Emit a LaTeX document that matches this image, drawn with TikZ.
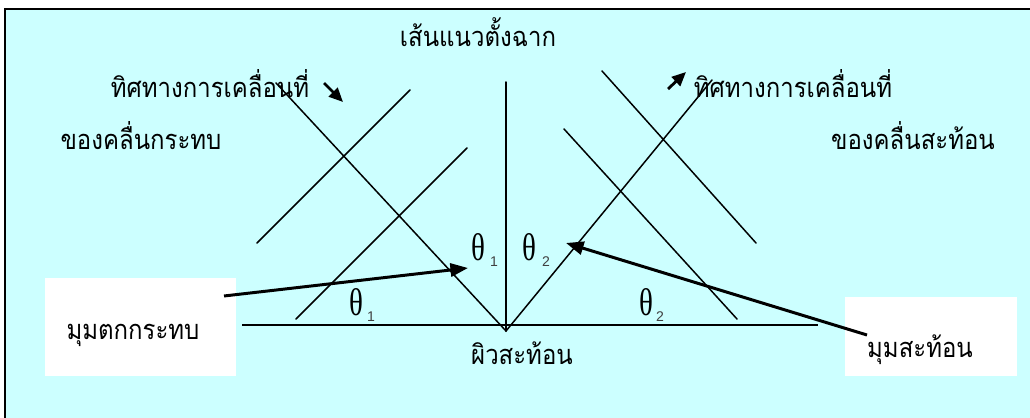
\documentclass[tikz,border=0pt]{standalone}
\usepackage{fontspec}
\setmainfont{Liberation Serif}
\newfontfamily\thaifont[Script=Thai]{Loma}
\newfontfamily\grkfont{Liberation Serif}
\newfontfamily\subfont{Liberation Sans}
\usepackage{xcolor}
\usetikzlibrary{arrows.meta}
\definecolor{seacyan}{RGB}{204,255,255}
\tikzstyle{wave}=[line width=0.85pt, line cap=round]
\tikzstyle{dirarrow}=[-{Triangle[length=8pt,width=7pt]}, line width=1.6pt]
\tikzstyle{pointer}=[-{Triangle[length=10pt,width=7.5pt]}, line width=1.7pt]
\newcommand{\thnar}[1]{\scalebox{0.88}[1]{#1}}
\newcommand{\thet}{\scalebox{0.75}[1]{θ}}

\begin{document}
\begin{tikzpicture}[x=0.02cm,y=-0.02cm,
  lbl/.style={font=\thaifont\fontsize{15.5}{17}\selectfont,inner sep=0pt,anchor=base},
  th/.style={font=\grkfont\fontsize{22}{24}\selectfont,inner sep=0pt},
  sub/.style={font=\subfont\fontsize{8}{9}\selectfont,inner sep=0pt,text=black!75},
  box/.style={fill=white,draw=none,inner sep=0pt}]
\clip (0,0) rectangle (1030,418);
\useasboundingbox (0,0) rectangle (1030,418);
% frame
\draw[fill=seacyan,line width=1.2pt] (5,9) rectangle (1060,440);

% label boxes
\node[box,minimum width=3.82cm,minimum height=1.96cm] (boxinc) at (140.5,327) {};
\node[box,minimum width=3.44cm,minimum height=1.58cm] (boxrefl) at (931,336.5) {};

% surface and normal
\coordinate (S1) at (242,325);
\coordinate (S2) at (818,325);
\coordinate (O) at (506,331);
\coordinate (N) at (506,82);
\draw[line width=1.2pt] (S1) -- (S2);
\draw[wave] (O) -- (N);

% incident and reflected rays
\coordinate (Ri) at (276,83);
\coordinate (Rr) at (712,80);
\draw[wave] (Ri) -- (O) -- (Rr);

% wave fronts
\foreach \n/\ax/\ay/\bx/\by in {1/257/243/410/90, 2/296/319/467/148,
    3/602/71/756/243, 4/564/129/737/319} {
  \coordinate (F\n a) at (\ax,\ay);
  \coordinate (F\n b) at (\bx,\by);
  \draw[wave] (F\n a) -- (F\n b);
}

% direction arrows
\coordinate (Da) at (324,83);
\coordinate (Db) at (343,102);
\draw[dirarrow] (Da) -- (Db);
\coordinate (Ea) at (668,89);
\coordinate (Eb) at (686,72);
\draw[dirarrow] (Ea) -- (Eb);

% angles
\node[th] (t1) at (478,247) {\thet};
\node[sub] (s1) at (494,262) {1};
\node[th] (t2) at (529,247) {\thet};
\node[sub] (s2) at (546,262) {2};
\node[th] (t3) at (356,302) {\thet};
\node[sub] (s3) at (371,317) {1};
\node[th] (t4) at (646,302) {\thet};
\node[sub] (s4) at (660,317) {2};

% texts
\node[lbl] (normal) at (478,47) {\thnar{เส้นแนวตั้งฉาก}};
\node[lbl] (dirinc) at (210,98) {\thnar{ทิศทางการเคลื่อนที่}};
\node[lbl] (waveinc) at (141,150) {\thnar{ของคลื่นกระทบ}};
\node[lbl] (dirrefl) at (793,98) {\thnar{ทิศทางการเคลื่อนที่}};
\node[lbl] (waverefl) at (913,150) {\thnar{ของคลื่นสะท้อน}};
\node[lbl] (surf) at (522,364) {\thnar{ผิวสะท้อน}};
\node[lbl] (inc) at (133,339) {\thnar{มุมตกกระทบ}};
\node[lbl] (refl) at (920,357) {\thnar{มุมสะท้อน}};

% pointers
\coordinate (Pa) at (224,296);
\coordinate (Pb) at (468,268);
\draw[pointer] (Pa) -- (Pb);
\coordinate (Qa) at (867,335);
\coordinate (Qb) at (566,243);
\draw[pointer] (Qa) -- (Qb);
\end{tikzpicture}
\end{document}
